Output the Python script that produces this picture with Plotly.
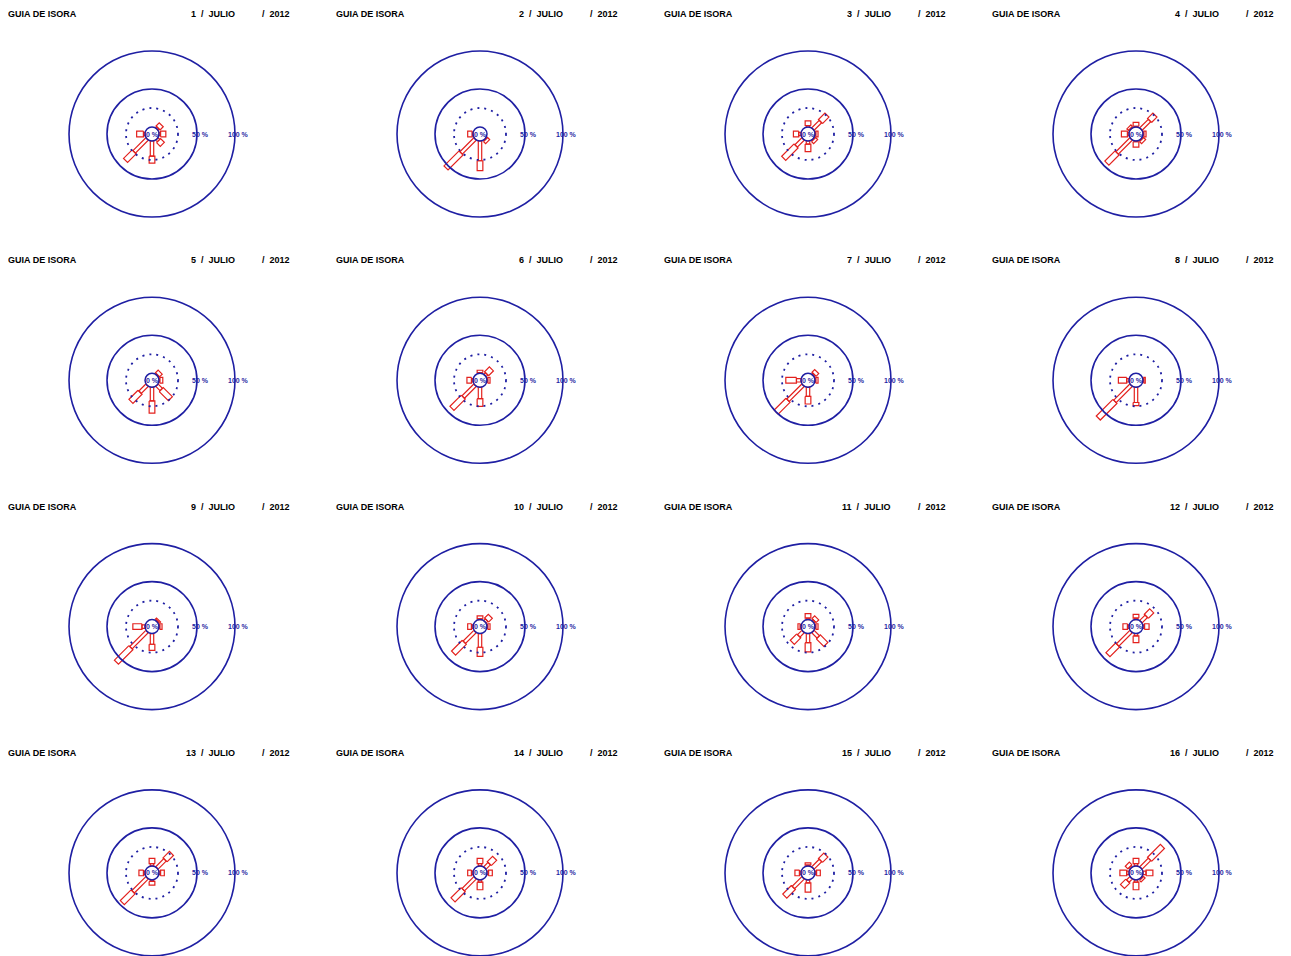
import math
import plotly.graph_objects as go

# ---------------- data ----------------
station = "GUIA DE ISORA"
month = "JULIO"
year = "2012"
days = list(range(1, 17))
directions = ["N", "NE", "E", "SE", "S", "SW", "W", "NW"]
dir_angles = [0, 45, 90, 135, 180, 225, 270, 315]
ring_labels = ["0 %", "50 %", "100 %"]

# percentage of observations per direction, lower speed class (inner segment)
class1 = [
    [0, 2, 2, 3, 20, 24, 2, 0],
    [0, 0, 0, 1, 26, 26, 1, 0],
    [2, 14, 1, 1, 4, 13, 3, 0],
    [1, 16, 1, 1, 1, 26, 2, 1],
    [0, 1, 1, 8, 18, 13, 0, 0],
    [1, 3, 1, 0, 15, 22, 2, 0],
    [0, 2, 1, 0, 12, 28, 6, 0],
    [0, 0, 1, 0, 20, 30, 3, 0],
    [0, 1, 1, 0, 14, 30, 4, 0],
    [1, 3, 1, 0, 18, 20, 2, 0],
    [2, 2, 1, 10, 12, 8, 1, 0],
    [2, 10, 2, 0, 3, 25, 2, 0],
    [3, 15, 2, 0, 2, 26, 2, 0],
    [3, 8, 2, 0, 3, 22, 2, 0],
    [1, 14, 2, 0, 4, 18, 2, 0],
    [3, 16, 4, 1, 3, 6, 3, 2],
]
# percentage of observations per direction, higher speed class (outer segment)
class2 = [
    [0, 6, 7, 7, 9, 16, 9, 0],
    [0, 0, 0, 4, 13, 28, 6, 0],
    [6, 12, 3, 4, 10, 23, 7, 0],
    [5, 10, 3, 4, 7, 19, 8, 3],
    [0, 5, 4, 17, 16, 17, 0, 0],
    [3, 9, 3, 0, 10, 21, 6, 0],
    [0, 5, 3, 0, 10, 22, 14, 0],
    [0, 0, 2, 0, 4, 31, 11, 0],
    [0, 2, 3, 0, 8, 27, 12, 0],
    [4, 7, 3, 0, 12, 20, 5, 0],
    [6, 5, 3, 14, 12, 12, 3, 0],
    [5, 10, 6, 0, 9, 18, 6, 0],
    [7, 12, 5, 0, 5, 20, 6, 0],
    [7, 10, 5, 0, 10, 19, 5, 0],
    [3, 10, 5, 0, 12, 16, 6, 0],
    [7, 24, 9, 3, 10, 10, 9, 5],
]

# ---------------- layout constants ----------------
OFF = 8                     # page margin around the plot div
W, H = 1291 - OFF, 956 - OFF
COLW, ROWH = 328, 246.3
CX0, CY0 = 152 - OFF, 134 - OFF
S = 0.76          # pixels per percent
R0 = 9.2          # radius of the 0 % circle, in percent units
BLUE = "#1f1fa3"
RED = "#e3211d"
W1, W2 = 4.5, 7.5  # bar widths (percent units)
NB = "\u00a0"

fig = go.Figure()
shapes = []
annotations = []
layout_axes = {}

def rect(a, b, w, th):
    ux, uy = math.sin(th), math.cos(th)
    vx, vy = math.cos(th), -math.sin(th)
    pts = [(a * ux + w / 2 * vx, a * uy + w / 2 * vy),
           (b * ux + w / 2 * vx, b * uy + w / 2 * vy),
           (b * ux - w / 2 * vx, b * uy - w / 2 * vy),
           (a * ux - w / 2 * vx, a * uy - w / 2 * vy)]
    pts.append(pts[0])
    return pts

for k, day in enumerate(days):
    i, j = divmod(k, 4)
    n = k + 1
    xa = "x" if n == 1 else f"x{n}"
    ya = "y" if n == 1 else f"y{n}"
    cx, cy = CX0 + COLW * j, CY0 + ROWH * i
    left, right = max(cx - 140, 0), min(cx + 180, W)
    top, bottom = max(cy - 125, 0), min(cy + 115, H)
    xrange_ = [(left - cx) / S, (right - cx) / S]
    yrange_ = [(cy - bottom) / S, (cy - top) / S]
    axkw = dict(visible=False, fixedrange=True, showgrid=False, zeroline=False)
    layout_axes["xaxis" if n == 1 else f"xaxis{n}"] = dict(
        domain=[left / W, right / W], range=xrange_, anchor=ya, **axkw)
    layout_axes["yaxis" if n == 1 else f"yaxis{n}"] = dict(
        domain=[1 - bottom / H, 1 - top / H], range=yrange_, anchor=xa, **axkw)

    # rings
    for r, dash, lw in [(R0, "solid", 1.5), (R0 + 25, "2px,5px", 1.8),
                        (R0 + 50, "solid", 1.6), (R0 + 100, "solid", 1.6)]:
        shapes.append(dict(type="circle", xref=xa, yref=ya, x0=-r, x1=r, y0=-r, y1=r,
                           line=dict(color=BLUE, width=lw, dash=dash)))

    # bars
    xs, ys = [], []
    for d, ang in enumerate(dir_angles):
        th = math.radians(ang)
        p1, p2 = class1[k][d], class2[k][d]
        segs = []
        if p1 > 0:
            segs.append((R0, R0 + p1, W1))
        if p2 > 0:
            segs.append((R0 + p1, R0 + p1 + p2, W2))
        for a, b, w in segs:
            for px, py in rect(a, b, w, th):
                xs.append(px)
                ys.append(py)
            xs.append(None)
            ys.append(None)
    fig.add_trace(go.Scatter(x=xs, y=ys, mode="lines", xaxis=xa, yaxis=ya,
                             line=dict(color=RED, width=1.2), hoverinfo="skip",
                             showlegend=False))

    # ring labels
    lab_font = dict(family="Liberation Sans", size=7, color=BLUE, weight="bold")
    for txt, xpos in zip(ring_labels, [0, 64, 114]):
        annotations.append(dict(text=txt.replace(" ", NB), x=xpos, y=0, xref=xa, yref=ya,
                                showarrow=False, font=lab_font, xanchor="center",
                                yanchor="middle"))

    # titles
    tfont = dict(family="Liberation Sans", size=9, color="black", weight="bold")
    ty = 1 - (14 - OFF + ROWH * i) / H
    annotations.append(dict(text=station, x=(6 - OFF + COLW * j) / W, y=ty, xref="paper",
                            yref="paper", showarrow=False, xanchor="left", yanchor="middle",
                            font=tfont))
    annotations.append(dict(text=f"{day}{NB}{NB}/{NB}{NB}{month}", x=(237 - OFF + COLW * j) / W,
                            y=ty, xref="paper", yref="paper", showarrow=False,
                            xanchor="right", yanchor="middle", font=tfont))
    annotations.append(dict(text=f"/{NB}{NB}{year}", x=(260 - OFF + COLW * j) / W, y=ty,
                            xref="paper", yref="paper", showarrow=False, xanchor="left",
                            yanchor="middle", font=tfont))

fig.update_layout(width=W, height=H, margin=dict(l=0, r=0, t=0, b=0),
                  paper_bgcolor="white", plot_bgcolor="white",
                  shapes=shapes, annotations=annotations, showlegend=False, **layout_axes)
fig.write_html("out.html")
